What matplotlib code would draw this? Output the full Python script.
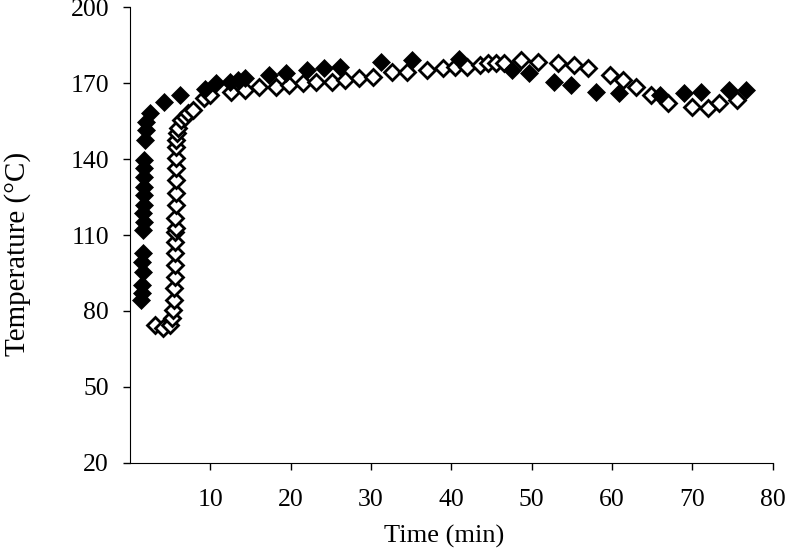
import numpy as np
import matplotlib.pyplot as plt

plt.rcParams['font.family'] = ['Liberation Serif', 'DejaVu Serif']

# filled series
t1 = [1.4, 1.5, 1.5, 1.6, 1.5, 1.6, 1.6, 1.7, 1.6, 1.7, 1.7, 1.7, 1.8, 1.8, 1.8, 1.9, 2.0, 2.0, 2.5,
      4.3, 6.3, 9.3, 10.7, 12.4, 13.4, 14.3, 17.3, 19.4, 22.1, 24.2, 26.2, 31.3, 35.1, 40.9,
      47.5, 49.7, 52.8, 54.9, 58.0, 60.9, 65.9, 69.0, 71.1, 74.6, 76.6]
T1 = [84.3, 87, 90.3, 95.5, 99.5, 102.8, 112, 115.3, 118.6, 121.8, 125.8, 129, 133, 136.3, 139.6, 147.5, 151.4, 154.7, 158,
      162.6, 165.3, 167.6, 169.9, 170.5, 171.2, 171.9, 173.2, 173.8, 175.1, 175.8, 176.4, 178.4, 179.1, 179.7,
      175.1, 173.8, 170.5, 169.2, 166.6, 165.9, 165.3, 165.9, 166.6, 167.2, 167.2]

# open series
t2 = [3.1, 4.1, 5.0, 5.3, 5.4, 5.5, 5.5, 5.6, 5.6, 5.6, 5.6, 5.6, 5.7, 5.6, 5.7, 5.7, 5.7, 5.8, 5.8, 5.8, 5.8, 5.9, 6.0,
      6.4, 6.8, 7.2, 7.8, 9.2, 10.0, 12.6, 14.3, 16.1, 18.2, 19.8, 21.5, 23.1, 25.2, 26.8, 28.5, 30.3,
      32.6, 34.5, 37.0, 38.9, 40.5, 41.9, 43.6, 44.6, 45.6, 46.5, 48.7, 50.8, 53.3, 55.3, 57.0,
      59.7, 61.4, 63.0, 64.9, 66.9, 70.0, 71.9, 73.3, 75.6]
T2 = [74.5, 73.2, 74.5, 77.1, 80.4, 84.4, 89, 93.6, 98.2, 102.8, 107.4, 111.3, 112.6, 116.6, 121.8, 126.5, 131.7, 136.3, 140.3, 144.9, 147.5, 150.1, 152.1,
      155.4, 156.7, 158, 159.3, 164.2, 165.3, 166.6, 167.2, 168.5, 168.5, 169.2, 169.9, 170.5, 170.5, 171.2, 171.9, 172.5,
      174.5, 174.5, 175.1, 175.8, 176.4, 176.4, 177.1, 177.8, 177.8, 177.8, 179.1, 178.4, 177.8, 177.1, 175.8,
      173.2, 171.2, 168.5, 165.3, 162, 160.6, 160, 162, 163.3]

fig = plt.figure(figsize=(7.87, 5.51), dpi=100)
ax = fig.add_axes([0.165, 0.160, 0.817, 0.827])

ax.plot(t1, T1, 'D', color='black', ms=8.8, mec='black', mew=0.5, zorder=3)
ax.plot(t2, T2, 'D', color='black', mfc='white', ms=8.0, mew=2.0, linestyle='none', zorder=2)

ax.set_xlim(0, 80)
ax.set_ylim(20, 200)
ax.set_xticks(np.arange(10, 81, 10))
ax.set_yticks(np.arange(20, 201, 30))
ax.tick_params(direction='out', length=5, width=1, labelsize=18.5)
ax.tick_params(axis='y', pad=10)
ax.tick_params(axis='x', pad=14)
for s in ['top', 'right']:
    ax.spines[s].set_visible(False)
ax.set_xlabel('Time (min)', fontsize=19)
ax.set_ylabel('Temperature (°C)', fontsize=21)
ax.xaxis.set_label_coords(0.489, -0.136)
ax.yaxis.set_label_coords(-0.153, 0.458)

fig.savefig('out.png', dpi=100)
